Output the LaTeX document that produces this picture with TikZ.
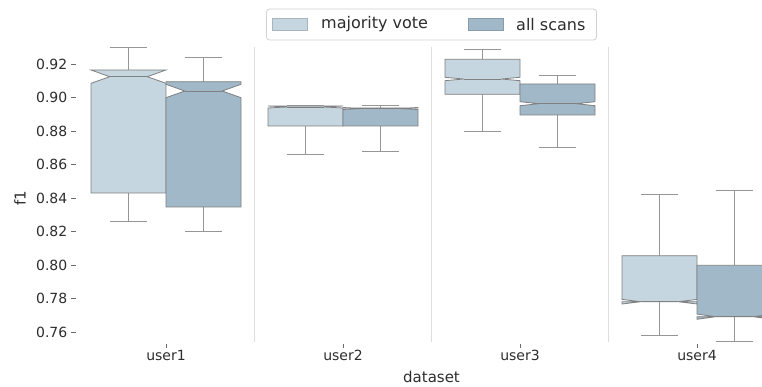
\documentclass[tikz,border=0pt]{standalone}
\usepackage{fontspec}
\setmainfont{DejaVu Sans}
\definecolor{boxlight}{RGB}{197,214,224}
\definecolor{boxdark}{RGB}{160,184,200}
\definecolor{edgegray}{RGB}{128,128,128}
\definecolor{whiskgray}{RGB}{150,150,150}
\definecolor{sepgray}{RGB}{222,222,222}
\definecolor{txt}{RGB}{45,45,45}
\tikzset{
  boxedge/.style={draw=edgegray, line width=0.8pt, line join=miter},
  whisk/.style={draw=whiskgray, line width=1pt},
  septick/.style={draw=sepgray, line width=1.6pt},
  tickmark/.style={draw=txt!70, line width=0.8pt},
  ticklab/.style={text=txt, font=\fontsize{14}{16}\selectfont, inner sep=0pt},
  axlab/.style={text=txt, font=\fontsize{15}{17}\selectfont, inner sep=0pt},
  leglab/.style={text=txt, font=\fontsize{16}{18}\selectfont, inner sep=0pt},
}
% notched box: #1 fill colour, #2 centre x, #3 upper whisker, #4 Q3,
% #5 notch top, #6 median, #7 notch bottom, #8 Q1, #9 lower whisker
\newcommand\notchbox[9]{%
  \draw[whisk] (#2,#4) -- (#2,#3) ({#2-18.75},#3) -- ({#2+18.75},#3);
  \draw[whisk] (#2,#8) -- (#2,#9) ({#2-18.75},#9) -- ({#2+18.75},#9);
  \filldraw[boxedge, fill=#1] ({#2-37.5},#8) -- ({#2+37.5},#8) -- ({#2+37.5},#7)
    -- ({#2+18.75},#6) -- ({#2+37.5},#5) -- ({#2+37.5},#4) -- ({#2-37.5},#4)
    -- ({#2-37.5},#5) -- ({#2-18.75},#6) -- ({#2-37.5},#7) -- cycle;
  \draw[boxedge] ({#2-18.75},#6) -- ({#2+18.75},#6);
}
\begin{document}
\begin{tikzpicture}[x=1pt, y=-1pt]
\useasboundingbox (0,0) rectangle (762,387);

% category separators
\foreach \sx in {254.5, 431.5, 608.5}
  \draw[septick] (\sx,46.7) -- (\sx,341.7);

% boxes, clipped to the axes area
\begin{scope}
  \clip (77.5,46.2) rectangle (762,342.2);
  % user1
  \notchbox{boxlight}{128.5}{47.7}{70}{70}{76.7}{83.3}{193}{222}
  \notchbox{boxdark}{203.5}{58}{81.7}{84.3}{91}{97.7}{207}{232}
  % user2
  \notchbox{boxlight}{305.5}{106}{106}{106}{107}{108}{126}{154.7}
  \notchbox{boxdark}{380.5}{106}{108}{107.5}{108.5}{109.5}{126}{151.7}
  % user3
  \notchbox{boxlight}{482.5}{49.3}{59.3}{77.3}{79}{80.7}{94.3}{131.7}
  \notchbox{boxdark}{557.5}{75.3}{84}{101.7}{103.7}{105.7}{115}{147.3}
  % user4
  \notchbox{boxlight}{659.5}{194.3}{255.7}{299.4}{301.7}{304}{301.7}{335.7}
  \notchbox{boxdark}{734.5}{191}{265.3}{314.1}{316.7}{319.3}{316.7}{341.4}
\end{scope}

% y axis ticks and labels
\foreach \v [count=\i from 0] in {0.92,0.90,0.88,0.86,0.84,0.82,0.80,0.78,0.76} {
  \pgfmathsetmacro\yy{64+33.5*\i}
  \draw[tickmark] (71,\yy) -- (76,\yy);
  \node[ticklab, anchor=east] (yt\i) at (67.5,\yy) {\v};
}
\node[axlab, rotate=90] (ylab) at (20,198) {f1};

% x axis ticks and labels
\foreach \n/\xx in {1/166, 2/343, 3/520, 4/697} {
  \draw[tickmark] (\xx,344) -- (\xx,348);
  \node[ticklab, anchor=north] (xt\n) at (\xx,350) {user\n};
}
\node[axlab] (xlab) at (431.5,377) {dataset};

% legend
\draw[draw=black!18, fill=white, rounded corners=3pt, line width=0.8pt] (266.5,9) rectangle (596.5,40);
\filldraw[draw=boxlight!85!black, fill=boxlight, line width=0.5pt] (272.5,18.5) rectangle (307.5,30.5);
\node[leglab, anchor=west] (leg1) at (321,24.5) {majority vote};
\filldraw[draw=boxdark!85!black, fill=boxdark, line width=0.5pt] (468.5,18.5) rectangle (503.5,30.5);
\node[leglab, anchor=west] (leg2) at (516,24.5) {all scans};
\end{tikzpicture}
\end{document}
